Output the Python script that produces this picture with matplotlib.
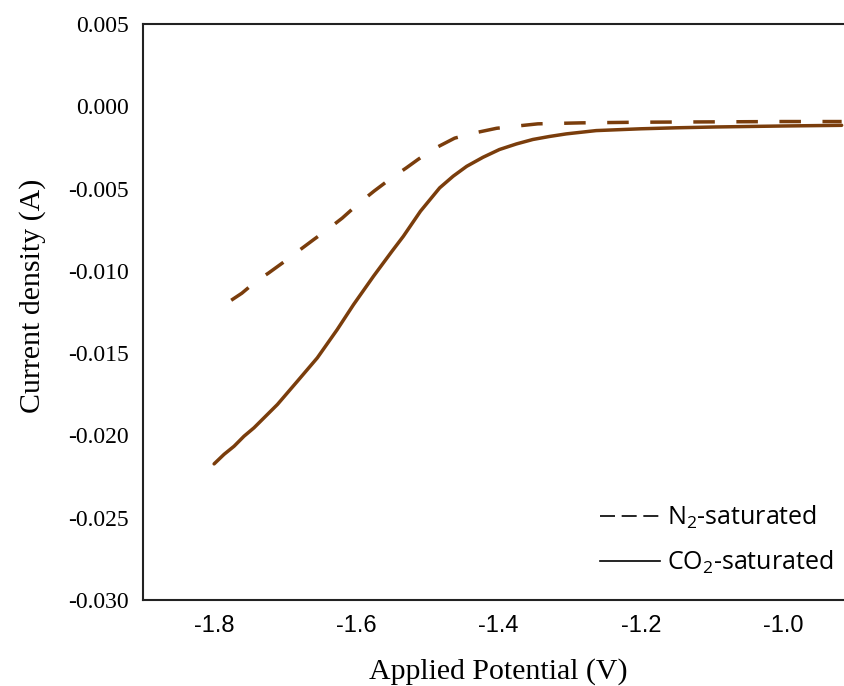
import matplotlib.pyplot as plt
from matplotlib.lines import Line2D

# potencial aplicado (V) e densidade de corrente (A)
pot_co2 = [-1.800, -1.786, -1.772, -1.758, -1.744, -1.711, -1.683, -1.655, -1.627,
           -1.604, -1.576, -1.550, -1.534, -1.510, -1.483, -1.464, -1.445, -1.422,
           -1.399, -1.375, -1.352, -1.329, -1.305, -1.263, -1.200, -1.150, -1.095,
           -1.000, -0.918]
cur_co2 = [-0.02173, -0.02115, -0.02066, -0.02005, -0.01954, -0.01812, -0.01671,
           -0.01529, -0.01357, -0.01205, -0.01033, -0.00881, -0.00790, -0.00638,
           -0.00496, -0.00425, -0.00365, -0.00310, -0.00263, -0.00229, -0.00202,
           -0.00184, -0.00168, -0.00148, -0.00137, -0.00131, -0.00126, -0.00120,
           -0.00116]

pot_n2 = [-1.776, -1.761, -1.740, -1.724, -1.700, -1.682, -1.660, -1.640, -1.620,
          -1.598, -1.575, -1.551, -1.530, -1.513, -1.492, -1.462, -1.436, -1.403,
          -1.378, -1.345, -1.284, -1.200, -1.100, -1.000, -0.918]
cur_n2 = [-0.01179, -0.01136, -0.01060, -0.01015, -0.00940, -0.00881, -0.00810,
          -0.00747, -0.00680, -0.00595, -0.00515, -0.00437, -0.00375, -0.00322,
          -0.00261, -0.00194, -0.00164, -0.00134, -0.00122, -0.00107, -0.00101,
          -0.00097, -0.00095, -0.00093, -0.00093]

x_ticks = [-1.8, -1.6, -1.4, -1.2, -1.0]
y_ticks = [0.005, 0.000, -0.005, -0.010, -0.015, -0.020, -0.025, -0.030]

cor = '#7a3d0c'
plt.rcParams['mathtext.default'] = 'regular'

fig = plt.figure(figsize=(8.44, 6.86), dpi=100)
ax = fig.add_axes([0.1694, 0.1254, 0.843, 0.8397])

ax.plot(pot_co2, cur_co2, color=cor, lw=2.5, solid_capstyle='round', solid_joinstyle='round')
ax.plot(pot_n2, cur_n2, color=cor, lw=2.5, dashes=(6.2, 6.2))

ax.set_xlim(-1.9, -0.9)
ax.set_ylim(-0.030, 0.005)
ax.set_xticks(x_ticks)
ax.set_xticklabels([f'{v:.1f}' for v in x_ticks], family='Liberation Sans', fontsize=17)
ax.set_yticks(y_ticks)
ax.set_yticklabels([f'{v:.3f}' for v in y_ticks], family='Liberation Serif', fontsize=17)
ax.tick_params(length=0)
ax.tick_params(axis='x', pad=11)
ax.tick_params(axis='y', pad=10)

for lado in ['left', 'bottom', 'top']:
    ax.spines[lado].set_linewidth(1.5)
    ax.spines[lado].set_color('#222222')
ax.spines['right'].set_visible(False)

ax.set_xlabel('Applied Potential (V)', family='Liberation Serif', fontsize=21.5, labelpad=15)
ax.set_ylabel('Current density (A)', family='Liberation Serif', fontsize=21.5)
ax.yaxis.set_label_coords(-0.136, 0.528)

handles = [Line2D([], [], color='black', lw=1.2, dashes=(9, 4)),
           Line2D([], [], color='black', lw=1.2)]
labels = ['$N_2$-saturated', '$CO_2$-saturated']
leg = ax.legend(handles, labels, loc='lower right', bbox_to_anchor=(856 / 844, 0.128),
                bbox_transform=fig.transFigure,
                frameon=False, handlelength=2.4, handletextpad=0.3, labelspacing=0.7,
                prop={'family': 'Open Sans', 'size': 18})

fig.savefig('out.png', dpi=100)
